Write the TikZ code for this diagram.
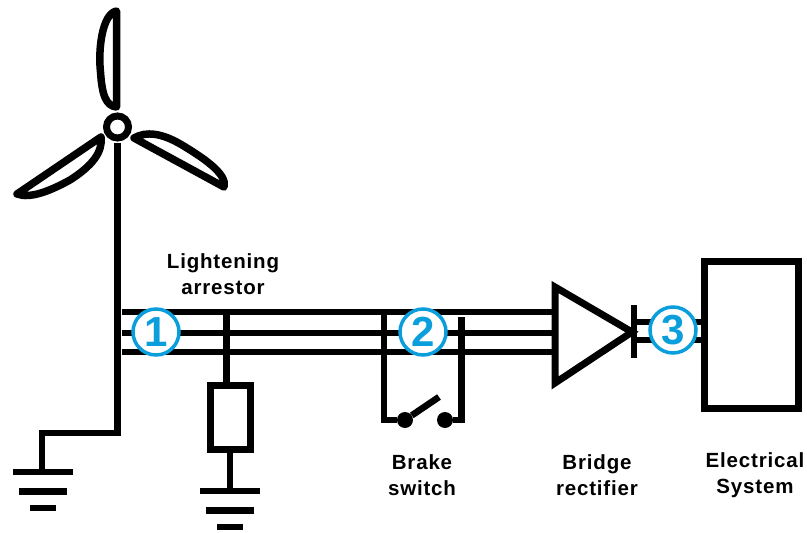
\documentclass[tikz,border=0pt]{standalone}
\usepackage{xcolor}
\usepackage{fontspec}
\setmainfont{Liberation Sans}
\newfontfamily\labelfont[LetterSpace=4]{Liberation Sans}
\usetikzlibrary{positioning}
\definecolor{badgeblue}{HTML}{0A9FDC}

\begin{document}
\begin{tikzpicture}[
		x=1pt, y=-1pt,
		wire/.style={line width=6.6pt},
		blade/.style={line width=7.5pt, line join=round},
		boxnode/.style={rectangle, draw=black, fill=white, line width=7pt, inner sep=0pt},
		contact/.style={circle, fill=black, minimum size=16pt, inner sep=0pt},
		labelnode/.style={align=center, inner sep=0pt, font=\labelfont\fontsize{20.5}{26}\selectfont\bfseries},
		badge/.style={circle, draw=badgeblue, fill=white, line width=3.5pt, minimum size=46pt, inner sep=0pt, text=badgeblue, font=\fontsize{42}{42}\selectfont\bfseries},
	]
		\useasboundingbox (0,0) rectangle (807,533);

		% nodes
		\node[circle, draw=black, line width=7pt, minimum size=22pt, inner sep=0pt] (hub) at (117.5,127) {};
		\node[boxnode, minimum width=40pt, minimum height=64pt] (resistor) at (230,417) {};
		\node[boxnode, minimum width=94pt, minimum height=147pt] (system) at (751.5,335) {};
		\node[contact] (contactA) at (405,420) {};
		\node[contact] (contactB) at (445,420) {};

		\coordinate (towertop) at (117.5,143);
		\coordinate (towerbase) at (117.5,433);
		\coordinate (towerfoot) at (42,433);
		\coordinate (earthA) at (42,472);
		\coordinate (earthB) at (230,491);
		\coordinate (busstart) at (122,0);
		\coordinate (rectA) at (555,287);
		\coordinate (rectB) at (555,383);
		\coordinate (rectC) at (632,332);
		\coordinate (barTop) at (634,305);
		\coordinate (barBot) at (634,358);
		\coordinate (tapA) at (226.5,312);
		\coordinate (tapB) at (384,312);
		\coordinate (tapC) at (461.5,317);
		\coordinate (lever) at (439,397);

		% blades
		\draw[blade] (116.5,11) .. controls (102,14) and (98,50) .. (100.5,72) .. controls (102,95) and (106,106) .. (116.5,107) -- cycle;
		\draw[blade] (134,138) .. controls (146,131) and (162,133) .. (182,145) .. controls (202,157) and (228,174) .. (224,187) -- cycle;
		\draw[blade] (101,137) .. controls (103,152) and (92,166) .. (70,180) .. controls (50,191) and (30,199) .. (17,194) -- cycle;

		% lines
		\draw[wire] (towertop) -- (towerbase) -- (towerfoot) -- (earthA);
		\foreach \busy in {312,333,352} {
			\draw[wire] (busstart |- 0,\busy) -- (rectA |- 0,\busy);
		}
		\draw[wire] (tapA) -- (tapA |- resistor.north);
		\draw[wire] (resistor.south) -- (earthB);
		\draw[wire] (tapB) -- (tapB |- contactA) -- (contactA);
		\draw[wire] (tapC) -- (tapC |- contactB) -- (contactB);
		\draw[wire] (contactA) -- (lever);
		\draw[wire, line width=7pt] (rectA) -- (rectB) -- (rectC) -- cycle;
		\draw[wire] (barTop) -- (barBot);
		\draw[wire] (barTop |- 0,322) -- (system.west |- 0,322);
		\draw[wire] (barTop |- 0,340) -- (system.west |- 0,340);

		% earth symbols
		\foreach \earthx/\earthy in {43/472, 230/491} {
			\draw[wire] (\earthx-30,\earthy) -- (\earthx+30,\earthy);
			\draw[wire] (\earthx-24,\earthy+19.5) -- (\earthx+24,\earthy+19.5);
			\draw[wire] (\earthx-13,\earthy+36) -- (\earthx+13,\earthy+36);
		}

		% badges
		\node[badge] (one) at (156,332) {1};
		\node[badge] (two) at (423,332) {2};
		\node[badge] (three) at (673,330) {3};

		% labels
		\node[labelnode] (arrestor) at (223,274) {Lightening\\arrestor};
		\node[labelnode] (brake) at (422,475) {Brake\\switch};
		\node[labelnode] (bridge) at (597,475) {Bridge\\rectifier};
		\node[labelnode] (electrical) at (755,475) {Electrical\\System};
	\end{tikzpicture}
\end{document}
